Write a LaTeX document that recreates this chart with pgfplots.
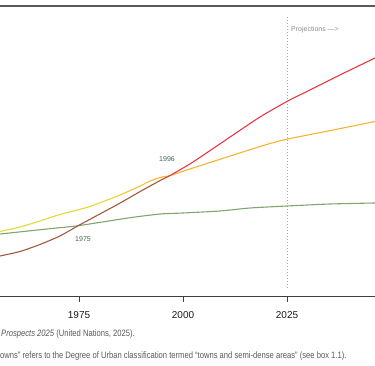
\documentclass[border=0pt]{standalone}
\usepackage{pgfplots}
\pgfplotsset{compat=1.18}
\usepackage{pgfplotstable}
\usepackage{fontspec}
\setmainfont{Liberation Sans}
\newfontfamily\narrowfont[FakeStretch=0.82]{Liberation Sans}

\definecolor{cbrown}{HTML}{9E5A3C}
\definecolor{cred}{HTML}{E73845}
\definecolor{cyellow}{HTML}{E2D932}
\definecolor{corange}{HTML}{F9B233}
\definecolor{cgreen}{HTML}{80A56E}
\definecolor{labgreen}{HTML}{356B45}

\pgfplotstableread{
year val
1956.0 41
1960.8 45.5
1965.6 52.5
1970.4 61
1974.8 71.3
1980.0 83
1984.9 94
1989.7 105.5
1994.5 116.5
1996.9 121.5
2002.4 135
2010.6 158
2018.5 180
2025.2 196
2031.0 208
2037.7 222
2046.15 239
}\cities

\pgfplotstableread{
year val
1956.0 65.5
1960.8 70
1965.6 76
1970.4 82.5
1977.6 90.5
1984.9 102
1989.7 111
1992.1 116
1994.5 119.5
1996.9 121.5
2002.4 129
2010.6 140
2019.7 152
2025.2 158
2036.1 167
2046.15 175.5
}\towns

\pgfplotstableread{
year val
1956.0 63
1968.0 68.3
1974.8 71.3
1987.3 79.3
1994.5 83
2000.0 84
2008.9 86
2016.1 89
2025.0 91
2035.3 93
2046.15 94
}\rural

\begin{document}
\begin{tikzpicture}
\useasboundingbox (0,0) rectangle (375pt,366pt);
\begin{axis}[
  at={(0pt,69pt)}, anchor=south west,
  width=375pt, height=291pt, scale only axis,
  xmin=1956.0, xmax=2046.15, ymin=0, ymax=291,
  axis y line=none, axis x line*=bottom,
  axis line style={-},
  x axis line style={draw=black!75, line width=1pt, -},
  ytick=\empty,
  xtick={1975,2000,2025}, xticklabels={1975,2000,2025},
  xtick align=outside, major tick length=5pt,
  tick style={black!75, line width=0.9pt},
  xticklabel style={font=\fontsize{10}{12}\selectfont, text=black!90, yshift=-6pt},
  clip=false,
  every axis plot/.append style={line width=1.1pt, no markers, smooth, tension=0.4},
]
\draw[draw=black!65, line width=1.5pt] (rel axis cs:0,1) -- (rel axis cs:1,1);
\draw[draw=black!35, line width=1pt, dash pattern=on 1.2pt off 1.8pt] (axis cs:2025,9) -- (axis cs:2025,280);
\node[anchor=west, inner sep=0, text=black!45, font=\fontsize{7}{8}\selectfont] at (axis cs:2025.95,267) {Projections —>};

\addplot[cgreen] table[x=year,y=val] {\rural};

\addplot[cyellow, restrict x to domain=1956:1984.95] table[x=year,y=val] {\towns};
\addplot[cyellow!50!corange, restrict x to domain=1984.85:1992.15] table[x=year,y=val] {\towns};
\addplot[corange, restrict x to domain=1992.05:2047] table[x=year,y=val] {\towns};

\addplot[cbrown, restrict x to domain=1956:1994.55] table[x=year,y=val] {\cities};
\addplot[cbrown!45!cred, restrict x to domain=1994.45:1996.95] table[x=year,y=val] {\cities};
\addplot[cred, restrict x to domain=1996.85:2047] table[x=year,y=val] {\cities};

\node[text=labgreen, font=\fontsize{7}{8}\selectfont, inner sep=0] at (axis cs:1975.96,58) {1975};
\node[text=labgreen, font=\fontsize{7}{8}\selectfont, inner sep=0] at (axis cs:1996.15,138) {1996};
\end{axis}
\node[anchor=base west, inner sep=0, text=black!65, font=\narrowfont\fontsize{9.3}{11}\selectfont] at (1pt,29.5pt) {\textit{Prospects 2025} (United Nations, 2025).};
\node[anchor=base west, inner sep=0, text=black!65, font=\narrowfont\fontsize{9.3}{11}\selectfont] at (0pt,7pt) {owns” refers to the Degree of Urban classification termed “towns and semi-dense areas” (see box 1.1).};
\end{tikzpicture}
\end{document}
